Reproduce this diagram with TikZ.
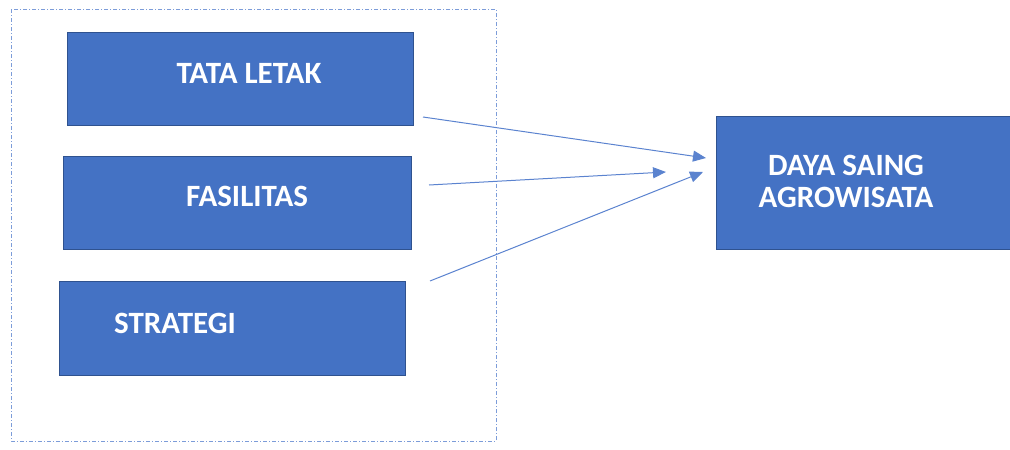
\documentclass[tikz,border=0pt]{standalone}
\usepackage{fontspec}
\setmainfont{Carlito}
\usetikzlibrary{arrows.meta}
\definecolor{boxblue}{HTML}{4472C4}
\definecolor{boxedge}{HTML}{2F528F}
\definecolor{linkblue}{HTML}{5B83CF}
\tikzset{
  block/.style={draw=boxedge, line width=0.8pt, fill=boxblue},
  lbl/.style={text=white, font=\fontsize{31}{32}\selectfont\bfseries, inner sep=0pt, align=center},
  link/.style={draw=linkblue, line width=1pt, -{Triangle[length=13pt,width=11pt]}},
  frame/.style={draw=linkblue!80, line width=1pt, dash pattern=on 4pt off 2pt on 1pt off 2pt}
}
\begin{document}
\begin{tikzpicture}[x=1pt,y=-1pt]
\useasboundingbox (0,0) rectangle (1010,450);
\draw[frame] (11,9) rectangle (496,441);
\draw[block] (67,32) rectangle (413,125);
\draw[block] (63,156) rectangle (411,249);
\draw[block] (59,281) rectangle (405,375);
\draw[block] (716,116) rectangle (1012,249);
\node[lbl] (tata) at (249,73) {TATA LETAK};
\node[lbl] (fas) at (247,196) {FASILITAS};
\node[lbl] (str) at (175,323) {STRATEGI};
\node[lbl] (daya) at (846,181) {DAYA SAING\\AGROWISATA};
\coordinate (a1) at (423,117);
\coordinate (a2) at (429,185);
\coordinate (a3) at (430,281);
\coordinate (t1) at (706,158);
\coordinate (t2) at (666,172);
\coordinate (t3) at (703,172);
\draw[link] (a1) -- (t1);
\draw[link] (a2) -- (t2);
\draw[link] (a3) -- (t3);
\end{tikzpicture}
\end{document}
